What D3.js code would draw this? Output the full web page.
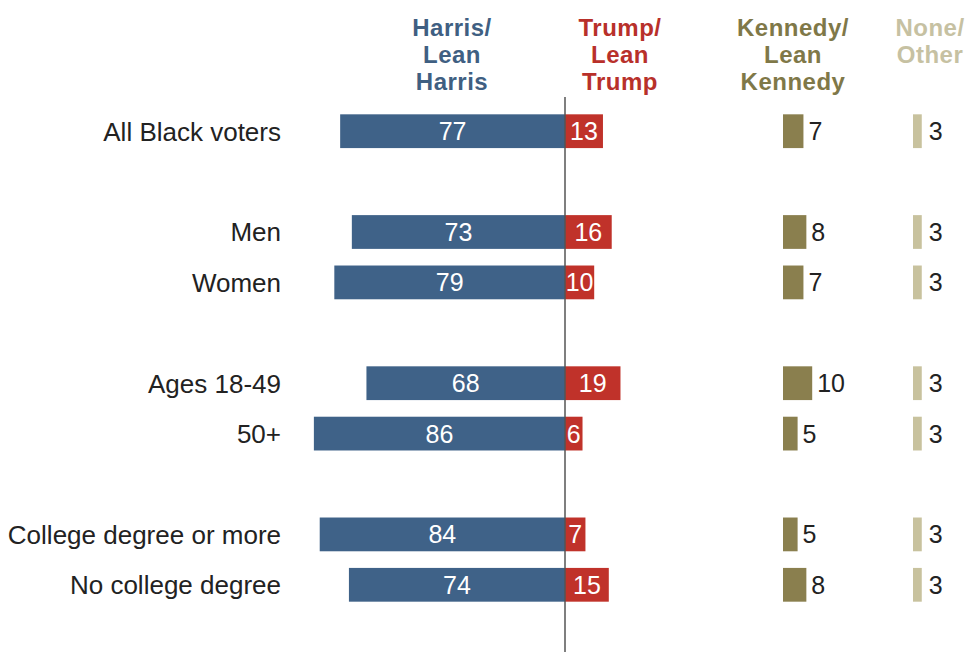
<!DOCTYPE html>
<html>
<head>
<meta charset="utf-8">
<script src="https://cdn.jsdelivr.net/npm/d3@7"></script>
<style>
  html, body { margin: 0; padding: 0; background: #fff; }
  .cat { font-family: "Liberation Sans", Arial, sans-serif; font-size: 26px; fill: #222; }
  .val { font-family: "Liberation Sans", Arial, sans-serif; font-size: 25px; }
  .head { font-family: "Liberation Sans", Arial, sans-serif; font-weight: bold; font-size: 24px; letter-spacing: 0.5px; }
</style>
</head>
<body>
<div id="chart"></div>
<script>
// data
const categories = ["All Black voters", "Men", "Women", "Ages 18-49", "50+", "College degree or more", "No college degree"];
const groupOf = [0, 1, 1, 2, 2, 3, 3];
const harris = [77, 73, 79, 68, 86, 84, 74];
const trump = [13, 16, 10, 19, 6, 7, 15];
const kennedy = [7, 8, 7, 10, 5, 5, 8];
const noneOther = [3, 3, 3, 3, 3, 3, 3];
const headers = [
  { lines: ["Harris/", "Lean", "Harris"], color: "#3f5f82" },
  { lines: ["Trump/", "Lean", "Trump"], color: "#b8302a" },
  { lines: ["Kennedy/", "Lean", "Kennedy"], color: "#7f7848" },
  { lines: ["None/", "Other"], color: "#c6c1a2" }
];

const width = 976;
const height = 656;
const centerX = 565;
const kennedyX = 783;
const noneX = 913;
const labelX = 281;

const colors = { harris: "#3f6288", trump: "#c0322a", kennedy: "#8a7f4e", none: "#c8c29e" };

const svg = d3.select("#chart").append("svg")
  .attr("width", width)
  .attr("height", height);

// 10 slots: rows plus blank gaps between groups
const rows = categories.map((c, i) => ({
  name: c,
  slot: i + groupOf[i],
  harris: harris[i],
  trump: trump[i],
  kennedy: kennedy[i],
  none: noneOther[i]
}));

const y = d3.scaleBand()
  .domain(d3.range(10))
  .range([106, 610])
  .paddingInner(0.33)
  .paddingOuter(0.165);

const x = d3.scaleLinear().domain([0, 100]).range([0, 292]);

// headers
const headerX = [452, 620, 793, 930];
headers.forEach((h, i) => {
  const t = svg.append("text")
    .attr("class", "head")
    .attr("text-anchor", "middle")
    .attr("fill", h.color);
  h.lines.forEach((ln, j) => {
    t.append("tspan")
      .attr("x", headerX[i])
      .attr("y", 36 + j * 27)
      .text(ln);
  });
});

// category labels
svg.selectAll(".cat")
  .data(rows)
  .enter()
  .append("text")
  .attr("class", "cat")
  .attr("x", labelX)
  .attr("y", d => y(d.slot) + y.bandwidth() / 2)
  .attr("dy", "0.36em")
  .attr("text-anchor", "end")
  .text(d => d.name);

// harris bars
svg.selectAll(".bar-h")
  .data(rows)
  .enter()
  .append("rect")
  .attr("class", "bar-h")
  .attr("x", d => centerX - x(d.harris))
  .attr("y", d => y(d.slot))
  .attr("width", d => x(d.harris))
  .attr("height", y.bandwidth())
  .attr("fill", colors.harris);

svg.selectAll(".bar-t")
  .data(rows)
  .enter()
  .append("rect")
  .attr("class", "bar-t")
  .attr("x", centerX)
  .attr("y", d => y(d.slot))
  .attr("width", d => x(d.trump))
  .attr("height", y.bandwidth())
  .attr("fill", colors.trump);

svg.selectAll(".bar-k")
  .data(rows)
  .enter()
  .append("rect")
  .attr("class", "bar-k")
  .attr("x", kennedyX)
  .attr("y", d => y(d.slot))
  .attr("width", d => x(d.kennedy))
  .attr("height", y.bandwidth())
  .attr("fill", colors.kennedy);

svg.selectAll(".bar-n")
  .data(rows)
  .enter()
  .append("rect")
  .attr("class", "bar-n")
  .attr("x", noneX)
  .attr("y", d => y(d.slot))
  .attr("width", d => x(d.none))
  .attr("height", y.bandwidth())
  .attr("fill", colors.none);

// value labels
const midY = d => y(d.slot) + y.bandwidth() / 2;

svg.selectAll(".val-h")
  .data(rows)
  .enter()
  .append("text")
  .attr("class", "val")
  .attr("x", d => centerX - x(d.harris) / 2)
  .attr("y", midY)
  .attr("dy", "0.36em")
  .attr("text-anchor", "middle")
  .attr("fill", "#fff")
  .text(d => d.harris);

svg.selectAll(".val-t")
  .data(rows)
  .enter()
  .append("text")
  .attr("class", "val")
  .attr("x", d => centerX + x(d.trump) / 2)
  .attr("y", midY)
  .attr("dy", "0.36em")
  .attr("text-anchor", "middle")
  .attr("fill", "#fff")
  .text(d => d.trump);

svg.selectAll(".val-k")
  .data(rows)
  .enter()
  .append("text")
  .attr("class", "val")
  .attr("x", d => kennedyX + x(d.kennedy) + 5)
  .attr("y", midY)
  .attr("dy", "0.36em")
  .attr("fill", "#222")
  .text(d => d.kennedy);

svg.selectAll(".val-n")
  .data(rows)
  .enter()
  .append("text")
  .attr("class", "val")
  .attr("x", d => noneX + x(d.none) + 7)
  .attr("y", midY)
  .attr("dy", "0.36em")
  .attr("fill", "#222")
  .text(d => d.none);

// center line
svg.append("line")
  .attr("x1", centerX)
  .attr("x2", centerX)
  .attr("y1", 97)
  .attr("y2", 652)
  .attr("stroke", "#555")
  .attr("stroke-width", 1.5);
</script>
</body>
</html>
